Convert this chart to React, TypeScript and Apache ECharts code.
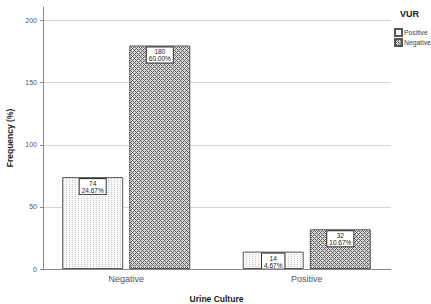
import React, { useEffect, useRef } from "react";
import * as echarts from "echarts";

const categories = ["Negative", "Positive"];
const seriesNames = ["Positive", "Negative"];
const positiveValues = [74, 14];
const negativeValues = [180, 32];
const positivePct = ["24.67%", "4.67%"];
const negativePct = ["60.00%", "10.67%"];
const yTicks = [0, 50, 100, 150, 200];
const gridValues = [50, 100, 150, 200];

function makePattern(kind: "dots" | "diamond"): string {
  const c = document.createElement("canvas");
  const ctx = c.getContext("2d")!;
  if (kind === "dots") {
    c.width = 3;
    c.height = 2;
    ctx.fillStyle = "#fafafa";
    ctx.fillRect(0, 0, 3, 2);
    ctx.fillStyle = "#c8c8c8";
    ctx.fillRect(0, 0, 1, 1);
  } else {
    c.width = 4;
    c.height = 4;
    ctx.fillStyle = "#d4d4d4";
    ctx.fillRect(0, 0, 4, 4);
    ctx.fillStyle = "#686868";
    for (let x = 0; x < 4; x++) {
      for (let y = 0; y < 4; y++) {
        if ((x + y) % 4 === 0 || (x - y + 4) % 4 === 0) ctx.fillRect(x, y, 1, 1);
      }
    }
  }
  return c.toDataURL();
}

export default function App() {
  const ref = useRef<HTMLDivElement>(null);
  useEffect(() => {
    document.body.style.margin = "0";
    const chart = echarts.init(ref.current!, null, { renderer: "svg" });
    const dots = makePattern("dots");
    const diamond = makePattern("diamond");
    const labelFor = (pcts: string[]) => ({
      show: true,
      position: "insideTop",
      distance: 2,
      formatter: (p: any) => `${p.value}\n${pcts[p.dataIndex]}`,
      backgroundColor: "#ffffff",
      borderColor: "#333",
      borderWidth: 1,
      padding: [1, 2, 0, 2],
      fontSize: 6.5,
      lineHeight: 7,
      color: "#222",
      fontFamily: "Liberation Sans",
    });
    const hLine = (v: number) => [
      { x: 43, yAxis: v },
      { x: 391, yAxis: v },
    ];
    chart.setOption({
      animation: false,
      backgroundColor: "#ffffff",
      textStyle: { fontFamily: "Liberation Sans" },
      grid: { left: 36, right: 34, top: 7, bottom: 35, outerBoundsMode: "none", containLabel: false },
      graphic: [
        {
          type: "text",
          left: 400,
          top: 9,
          style: { text: "VUR", fontSize: 9, fontWeight: "bold", fill: "#222", fontFamily: "Liberation Sans" },
        },
      ],
      legend: {
        orient: "vertical",
        left: 389,
        top: 23,
        itemWidth: 7,
        itemHeight: 7,
        itemGap: 1,
        icon: "rect",
        textStyle: { fontSize: 6.8, color: "#444", padding: [0, 0, 0, -3] },
        data: seriesNames,
      },
      xAxis: {
        type: "category",
        data: categories,
        name: "Urine Culture",
        nameLocation: "middle",
        nameGap: 25,
        nameTextStyle: { fontSize: 8.5, fontWeight: "bold", color: "#222" },
        axisLine: { show: false },
        axisTick: { show: false },
        axisLabel: { fontSize: 9, color: "#555", margin: 5 },
      },
      yAxis: {
        type: "value",
        min: 0,
        max: 211,
        offset: -7,
        name: "Frequency (%)",
        nameLocation: "middle",
        nameGap: 19,
        nameTextStyle: { fontSize: 8.5, fontWeight: "bold", color: "#222" },
        axisLine: { show: true, lineStyle: { color: "#888" } },
        axisTick: { show: true, length: 3, customValues: yTicks, lineStyle: { color: "#888" } },
        axisLabel: { fontSize: 7, color: "#555", margin: 6, customValues: yTicks },
        splitLine: { show: false },
      },
      series: [
        {
          name: seriesNames[0],
          type: "bar",
          data: positiveValues,
          barWidth: 61,
          barGap: "10%",
          itemStyle: { color: { image: dots, repeat: "repeat" }, borderColor: "#555", borderWidth: 1 },
          label: labelFor(positivePct),
          markLine: {
            silent: true,
            symbol: "none",
            z: 0,
            label: { show: false },
            lineStyle: { color: "#d6d6d6", type: "solid", width: 1 },
            data: gridValues.map(hLine),
          },
          z: 2,
        },
        {
          name: seriesNames[1],
          type: "bar",
          data: negativeValues,
          barWidth: 61,
          barGap: "10%",
          itemStyle: { color: { image: diamond, repeat: "repeat" }, borderColor: "#555", borderWidth: 1 },
          label: labelFor(negativePct),
          markLine: {
            silent: true,
            symbol: "none",
            z: 3,
            label: { show: false },
            lineStyle: { color: "#888", type: "solid", width: 1 },
            data: [hLine(0)],
          },
          z: 2,
        },
      ],
    });
    return () => chart.dispose();
  }, []);
  return <div ref={ref} style={{ width: 431, height: 304 }} />;
}
